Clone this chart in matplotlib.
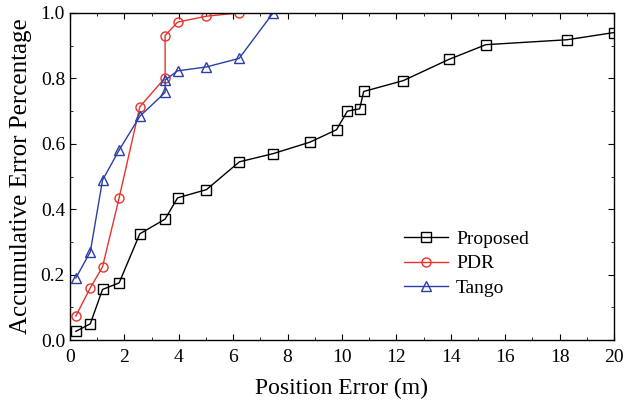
import matplotlib
matplotlib.use("Agg")
import matplotlib.pyplot as plt
from matplotlib.ticker import MultipleLocator, FormatStrFormatter

plt.rcParams["font.family"] = ["Liberation Serif", "DejaVu Serif"]

proposed_x = [0.22, 0.75, 1.2, 1.81, 2.57, 3.5, 3.96, 5.02, 6.23, 7.47, 8.82, 9.8, 10.2, 10.65, 10.8, 12.25, 13.93, 15.29, 18.27, 20.0]
proposed_y = [0.027, 0.05, 0.155, 0.175, 0.325, 0.37, 0.435, 0.46, 0.545, 0.57, 0.605, 0.643, 0.70, 0.707, 0.76, 0.793, 0.858, 0.903, 0.918, 0.94]
pdr_x = [0.22, 0.75, 1.2, 1.81, 2.57, 3.5, 3.5, 3.96, 5.02, 6.22]
pdr_y = [0.074, 0.16, 0.224, 0.435, 0.713, 0.802, 0.931, 0.972, 0.99, 1.0]
tango_x = [0.22, 0.75, 1.2, 1.81, 2.58, 3.5, 3.5, 3.96, 5.02, 6.22, 7.47]
tango_y = [0.19, 0.27, 0.489, 0.581, 0.685, 0.757, 0.795, 0.823, 0.835, 0.861, 1.0]

fig = plt.figure(figsize=(6.24, 4.04), dpi=100)
ax = fig.add_axes([0.112, 0.158, 0.872, 0.81])

mk = dict(markerfacecolor="none", markersize=6.5, linewidth=1.0, markeredgewidth=1.0)
ax.plot(proposed_x, proposed_y, color="black", marker="s", label="Proposed", **mk)
ax.plot(pdr_x, pdr_y, color="#e8332c", marker="o", label="PDR", **mk)
ax.plot(tango_x, tango_y, color="#2c3ea6", marker="^", label="Tango", **mk)

ax.set_xlim(0, 20)
ax.set_ylim(0, 1.0)
ax.xaxis.set_major_locator(MultipleLocator(2))
ax.xaxis.set_minor_locator(MultipleLocator(1))
ax.yaxis.set_major_locator(MultipleLocator(0.2))
ax.yaxis.set_minor_locator(MultipleLocator(0.1))
ax.yaxis.set_major_formatter(FormatStrFormatter("%.1f"))
ax.tick_params(which="both", direction="in", top=True, right=True, labelsize=14)
ax.tick_params(axis="x", which="major", pad=6)
ax.tick_params(which="major", length=4.3)
ax.tick_params(which="minor", length=2.4)
for s in ax.spines.values():
    s.set_linewidth(1.0)

ax.set_xlabel("Position Error (m)", fontsize=17, labelpad=9)
ax.set_ylabel("Accumulative Error Percentage", fontsize=18, labelpad=6)

ax.legend(loc="lower right", bbox_to_anchor=(0.876, 0.079), frameon=False, fontsize=14,
          handlelength=2.3, handletextpad=0.4, labelspacing=0.35)

fig.savefig("out.png", dpi=100)
